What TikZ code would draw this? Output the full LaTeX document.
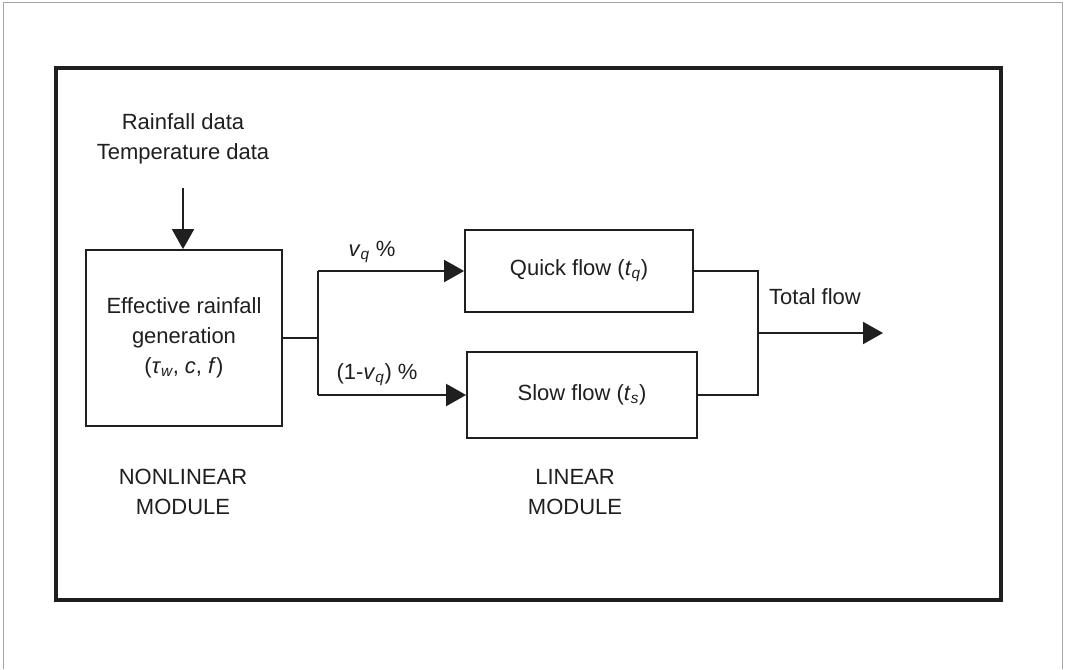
\documentclass[tikz,border=0pt]{standalone}
\usepackage{fontspec}
\setmainfont{Liberation Sans}
\usetikzlibrary{arrows.meta}
\definecolor{ink}{gray}{0.12}
\begin{document}
\begin{tikzpicture}[x=1pt,y=-1pt,
  every node/.style={font=\fontsize{22}{30}\selectfont, text=ink},
  blk/.style={draw=ink, line width=1.8pt, inner sep=0pt},
  conn/.style={draw=ink, line width=2pt},
  arr/.style={conn, -{Triangle[length=20pt,width=22pt]}},
  lbl/.style={align=center, inner sep=0pt}]
\useasboundingbox (0,0) rectangle (1065,669);
\fill[white] (0,0) rectangle (1065,669);
% outer scan frame
\draw[gray!70, line width=1pt] (3,669) -- (3,3) -- (1062,3) -- (1062,669);
% inner frame
\draw[ink, line width=3.2pt] (56,68) rectangle (1001,600);
% nodes
\node[lbl] (rain) at (183,139) {Rainfall data\\Temperature data};
\node[blk, minimum width=196pt, minimum height=176pt, align=center] (eff) at (184,338)
  {Effective rainfall\\generation\\(\textit{τ}\textsubscript{\itshape w}, \textit{c}, \textit{f})};
\node[blk, minimum width=228pt, minimum height=82pt] (quick) at (579,271)
  {Quick flow (\textit{t}\textsubscript{\itshape q})};
\node[blk, minimum width=230pt, minimum height=86pt] (slow) at (582,395)
  {Slow flow (\textit{t}\textsubscript{\itshape s})};
\coordinate (ain) at (183,188);
\coordinate (split) at (318,338);
\coordinate (join) at (758,333);
\coordinate (out) at (883,333);
\node[lbl] (vq) at (372,252) {\textit{v}\textsubscript{\itshape q} \%};
\node[lbl] (vs) at (377,375) {(1-\textit{v}\textsubscript{\itshape q}) \%};
\node[lbl] (tot) at (815,297) {Total flow};
\node[lbl] (nl) at (183,492) {NONLINEAR\\MODULE};
\node[lbl] (lin) at (575,492) {LINEAR\\MODULE};
% connectors
\draw[arr] (ain) -- (eff.north -| ain);
\draw[conn] (eff.east |- split) -- (split);
\draw[conn] (split |- quick.west) -- (split |- slow.west);
\draw[arr] (split |- quick.west) -- (quick.west);
\draw[arr] (split |- slow.west) -- (slow.west);
\draw[conn] (quick.east) -- (quick.east -| join) -- (slow.east -| join) -- (slow.east);
\draw[arr] (join) -- (out);
\end{tikzpicture}
\end{document}
